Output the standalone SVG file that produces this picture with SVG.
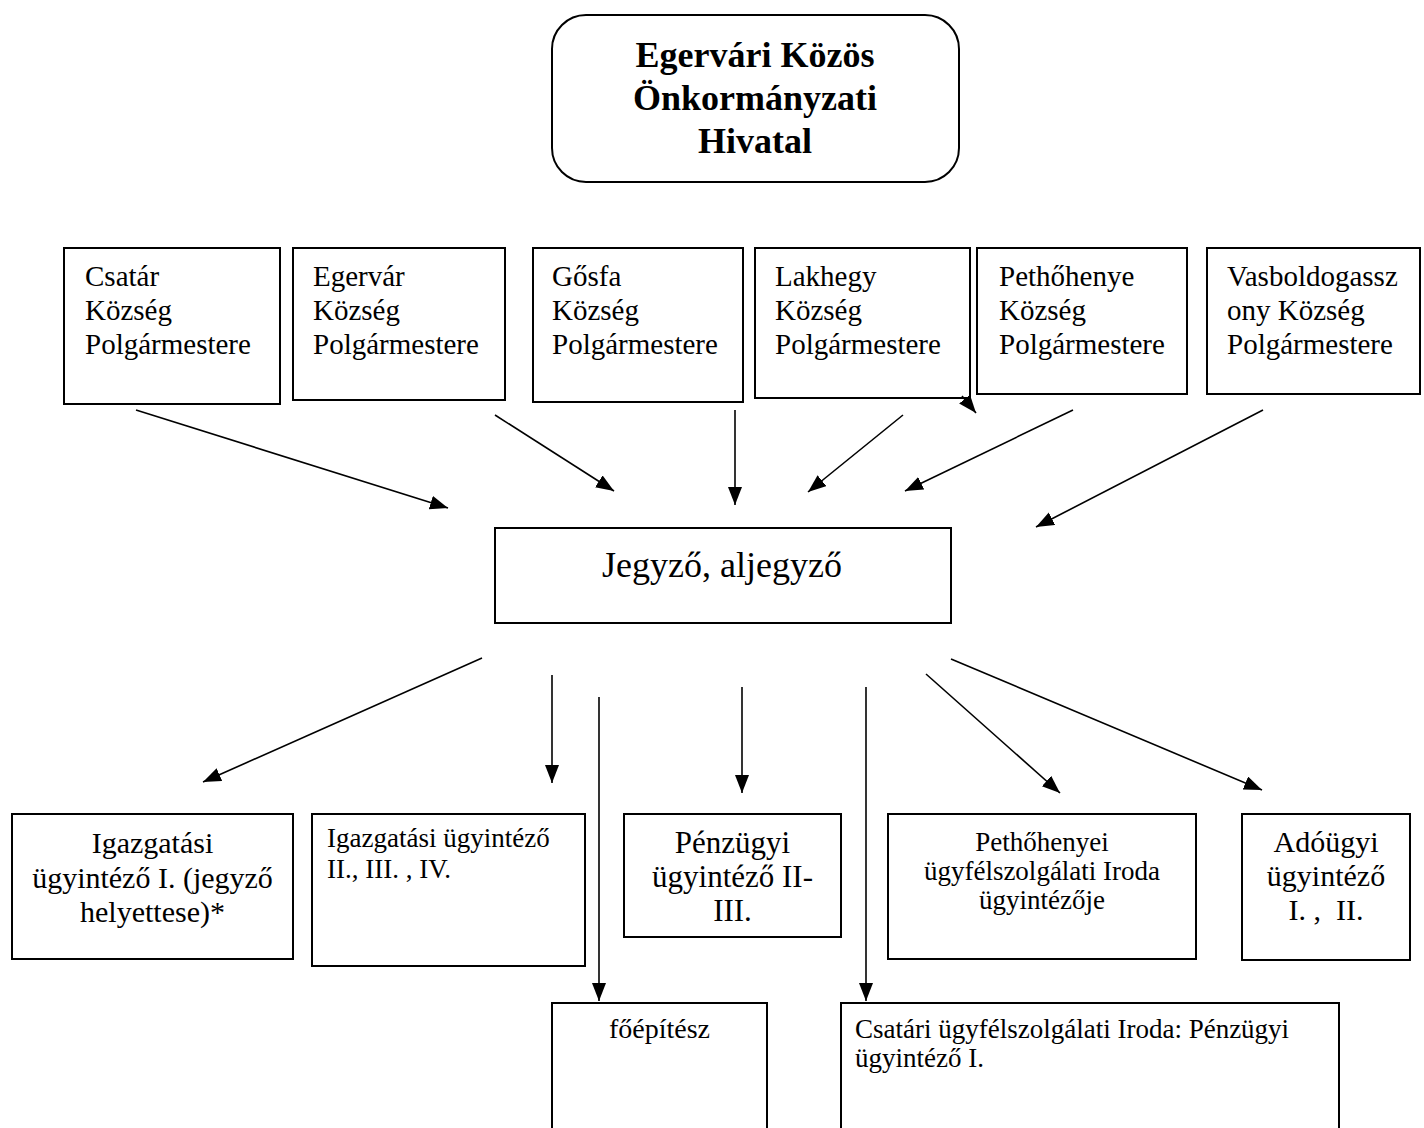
<svg xmlns="http://www.w3.org/2000/svg" width="1424" height="1128" viewBox="0 0 1424 1128">
<style>
  .box { fill: #ffffff; stroke: #000000; stroke-width: 2; }
  .t { font-family: "Liberation Serif", "Times New Roman", serif; fill: #000000; }
  .title { font-size: 36px; font-weight: bold; text-anchor: middle; }
  .mayor { font-size: 29px; }
  .c { text-anchor: middle; }
  .conn line { stroke: #000000; stroke-width: 1.6; fill: none; marker-end: url(#ah); }
</style>
<defs>
  <marker id="ah" markerUnits="userSpaceOnUse" markerWidth="20" markerHeight="16" refX="18" refY="7" orient="auto">
    <path d="M0,0 L18,7 L0,14 z" fill="#000000"/>
  </marker>
</defs>
<rect width="1424" height="1128" fill="#ffffff"/>

<g id="hivatal">
  <rect class="box" x="552" y="15" width="407" height="167" rx="34" ry="34"/>
  <text class="t title" x="755" y="67">Egervári Közös</text>
  <text class="t title" x="755" y="110">Önkormányzati</text>
  <text class="t title" x="755" y="153">Hivatal</text>
</g>

<g id="csatar">
  <rect class="box" x="64" y="248" width="216" height="156"/>
  <text class="t mayor" x="85" y="286">Csatár</text>
  <text class="t mayor" x="85" y="320">Község</text>
  <text class="t mayor" x="85" y="354">Polgármestere</text>
</g>
<g id="egervar">
  <rect class="box" x="293" y="248" width="212" height="152"/>
  <text class="t mayor" x="313" y="286">Egervár</text>
  <text class="t mayor" x="313" y="320">Község</text>
  <text class="t mayor" x="313" y="354">Polgármestere</text>
</g>
<g id="gosfa">
  <rect class="box" x="533" y="248" width="210" height="154"/>
  <text class="t mayor" x="552" y="286">Gősfa</text>
  <text class="t mayor" x="552" y="320">Község</text>
  <text class="t mayor" x="552" y="354">Polgármestere</text>
</g>
<g id="lakhegy">
  <rect class="box" x="755" y="248" width="215" height="150"/>
  <text class="t mayor" x="775" y="286">Lakhegy</text>
  <text class="t mayor" x="775" y="320">Község</text>
  <text class="t mayor" x="775" y="354">Polgármestere</text>
</g>
<g id="pethohenye">
  <rect class="box" x="977" y="248" width="210" height="146"/>
  <text class="t mayor" x="999" y="286">Pethőhenye</text>
  <text class="t mayor" x="999" y="320">Község</text>
  <text class="t mayor" x="999" y="354">Polgármestere</text>
</g>
<g id="vasboldogasszony">
  <rect class="box" x="1207" y="248" width="213" height="146"/>
  <text class="t mayor" x="1227" y="286">Vasboldogassz</text>
  <text class="t mayor" x="1227" y="320">ony Község</text>
  <text class="t mayor" x="1227" y="354">Polgármestere</text>
</g>

<g id="jegyzo">
  <rect class="box" x="495" y="528" width="456" height="95"/>
  <text class="t c" x="722" y="577" font-size="36">Jegyző, aljegyző</text>
</g>

<g id="igazgatasi1">
  <rect class="box" x="12" y="814" width="281" height="145"/>
  <text class="t c" x="152.5" y="853" font-size="30">Igazgatási</text>
  <text class="t c" x="152.5" y="888" font-size="30">ügyintéző I. (jegyző</text>
  <text class="t c" x="152.5" y="922" font-size="30">helyettese)*</text>
</g>
<g id="igazgatasi2">
  <rect class="box" x="312" y="814" width="273" height="152"/>
  <text class="t" x="327" y="847" font-size="27">Igazgatási ügyintéző</text>
  <text class="t" x="327" y="878" font-size="27">II., III. , IV.</text>
</g>
<g id="penzugyi">
  <rect class="box" x="624" y="814" width="217" height="123"/>
  <text class="t c" x="732.5" y="853" font-size="31">Pénzügyi</text>
  <text class="t c" x="732.5" y="887" font-size="31">ügyintéző II-</text>
  <text class="t c" x="732.5" y="921" font-size="31">III.</text>
</g>
<g id="pethohenyei">
  <rect class="box" x="888" y="814" width="308" height="145"/>
  <text class="t c" x="1042" y="851" font-size="27">Pethőhenyei</text>
  <text class="t c" x="1042" y="880" font-size="27">ügyfélszolgálati Iroda</text>
  <text class="t c" x="1042" y="909" font-size="27">ügyintézője</text>
</g>
<g id="adougyi">
  <rect class="box" x="1242" y="814" width="168" height="146"/>
  <text class="t c" x="1326" y="852" font-size="30">Adóügyi</text>
  <text class="t c" x="1326" y="886" font-size="30">ügyintéző</text>
  <text class="t c" x="1326" y="920" font-size="30" xml:space="preserve">I. ,  II.</text>
</g>
<g id="foepitesz">
  <rect class="box" x="552" y="1003" width="215" height="140"/>
  <text class="t c" x="659.5" y="1038" font-size="28">főépítész</text>
</g>
<g id="csatari-iroda">
  <rect class="box" x="841" y="1003" width="498" height="140"/>
  <text class="t" x="855" y="1038" font-size="27">Csatári ügyfélszolgálati Iroda: Pénzügyi</text>
  <text class="t" x="855" y="1067" font-size="27">ügyintéző I.</text>
</g>

<g id="connectors" class="conn">
  <line x1="136" y1="410" x2="448" y2="508"/>
  <line x1="495" y1="415" x2="614" y2="491"/>
  <line x1="735" y1="410" x2="735" y2="505"/>
  <line x1="903" y1="415" x2="808" y2="492"/>
  <line x1="1073" y1="410" x2="905" y2="491"/>
  <line x1="1263" y1="410" x2="1036" y2="527"/>
  <line x1="962" y1="396" x2="976" y2="413"/>
  <line x1="482" y1="658" x2="203" y2="782"/>
  <line x1="552" y1="675" x2="552" y2="783"/>
  <line x1="599" y1="697" x2="599" y2="1001"/>
  <line x1="742" y1="687" x2="742" y2="793"/>
  <line x1="866" y1="687" x2="866" y2="1001"/>
  <line x1="926" y1="674" x2="1060" y2="793"/>
  <line x1="951" y1="659" x2="1262" y2="790"/>
</g>
</svg>
